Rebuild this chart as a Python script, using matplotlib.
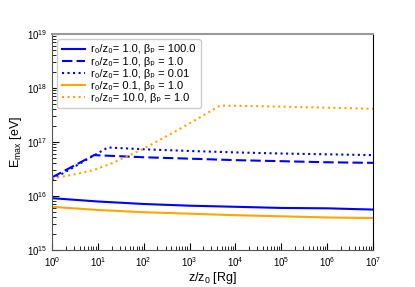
import matplotlib
matplotlib.use("Agg")
import matplotlib.pyplot as plt

plt.rcParams['font.family'] = ['Liberation Sans', 'DejaVu Sans']
plt.rcParams['mathtext.fontset'] = 'custom'
plt.rcParams['mathtext.rm'] = 'Liberation Sans'
plt.rcParams['mathtext.it'] = 'Liberation Sans'

# values
x_blue_solid = [1, 10, 100, 1e3, 1e4, 1e5, 1e6, 1e7]
y_blue_solid = [9.1e15, 7.9e15, 7.1e15, 6.6e15, 6.3e15, 6.0e15, 5.9e15, 5.6e15]

x_blue_dash = [1, 8.3, 100, 1e3, 1e4, 1e5, 1e6, 1e7]
y_blue_dash = [2.2e16, 5.7e16, 5.2e16, 4.9e16, 4.6e16, 4.4e16, 4.2e16, 4.1e16]

x_blue_dot = [1, 16.6, 100, 1e3, 1e4, 1e5, 1e6, 1e7]
y_blue_dot = [2.0e16, 7.9e16, 7.3e16, 6.8e16, 6.4e16, 6.1e16, 5.9e16, 5.7e16]

x_orange_solid = [1, 10, 100, 1e3, 1e4, 1e5, 1e6, 1e7]
y_orange_solid = [6.3e15, 5.5e15, 5.0e15, 4.7e15, 4.4e15, 4.2e15, 4.0e15, 3.9e15]

x_orange_dot = [1, 3, 8, 20, 50, 100, 480, 1000, 4600, 1e5, 1e6, 1e7]
y_orange_dot = [2.1e16, 2.5e16, 3.0e16, 4.0e16, 5.7e16, 7.5e16, 1.55e17, 2.2e17,
                4.7e17, 4.5e17, 4.3e17, 4.1e17]

labels = ['r\u2080/z\u2080= 1.0, \u03b2\u209a = 100.0',
          'r\u2080/z\u2080= 1.0, \u03b2\u209a = 1.0',
          'r\u2080/z\u2080= 1.0, \u03b2\u209a = 0.01',
          'r\u2080/z\u2080= 0.1, \u03b2\u209a = 1.0',
          'r\u2080/z\u2080= 10.0, \u03b2\u209a = 1.0']

fig = plt.figure(figsize=(4.15, 2.87), dpi=100)
ax = fig.add_axes([0.125, 0.129, 0.774, 0.753])

ax.plot(x_blue_solid, y_blue_solid, color='blue', lw=1.5, label=labels[0])
ax.plot(x_blue_dash, y_blue_dash, color='blue', lw=1.5, ls=(0, (5, 2)), label=labels[1])
ax.plot(x_blue_dot, y_blue_dot, color='blue', lw=1.5, ls=':', label=labels[2])
ax.plot(x_orange_solid, y_orange_solid, color='orange', lw=1.5, label=labels[3])
ax.plot(x_orange_dot, y_orange_dot, color='orange', lw=1.5, ls=':', label=labels[4])

ax.set_xscale('log')
ax.set_yscale('log')
ax.set_xlim(1, 1e7)
ax.set_ylim(1e15, 1e19)
ax.set_xlabel(r'z/z$_0$ [Rg]', fontsize=9, labelpad=1)
ax.set_ylabel(r'E$_{max}$ [eV]', fontsize=9, labelpad=2)

ax.tick_params(which='both', direction='in', labelsize=7, top=False, right=False)
ax.tick_params(which='major', length=5, width=0.8)
ax.tick_params(which='minor', length=3, width=0.6)

for s in ['left', 'bottom']:
    ax.spines[s].set_color('#555555')
ax.spines['top'].set_color('#999999')
ax.spines['top'].set_linewidth(1.5)
ax.spines['right'].set_color('black')

ax.legend(loc='upper left', fontsize=8, handlelength=2.0, labelspacing=0.2,
          handletextpad=0.6, borderpad=0.45, edgecolor='#cccccc', framealpha=1,
          fancybox=True)

fig.savefig('out.png', dpi=100)
